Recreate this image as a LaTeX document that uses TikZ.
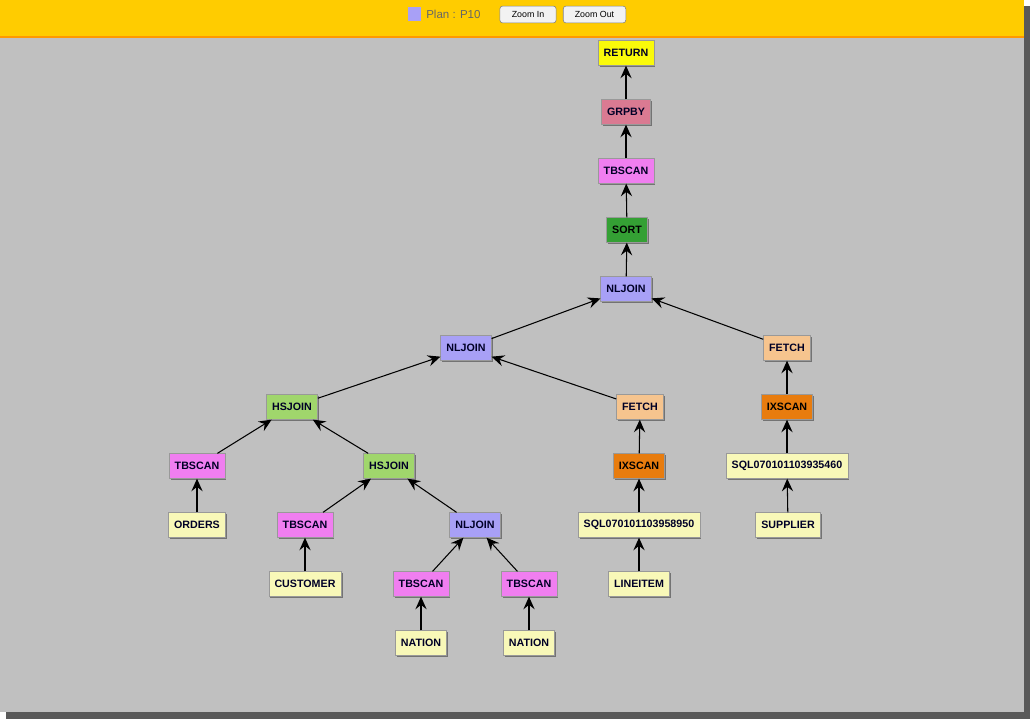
\documentclass[tikz,border=0pt]{standalone}
\usepackage{fontspec}
\setmainfont{Liberation Sans}
\usetikzlibrary{arrows.meta,shadows}

\definecolor{panelgray}{RGB}{192,192,192}
\definecolor{headyellow}{RGB}{255,204,0}
\definecolor{cReturn}{RGB}{250,250,10}
\definecolor{cGrpby}{RGB}{218,122,146}
\definecolor{cScan}{RGB}{240,126,240}
\definecolor{cSort}{RGB}{52,160,52}
\definecolor{cJoin}{RGB}{168,160,246}
\definecolor{cFetch}{RGB}{246,196,142}
\definecolor{cHash}{RGB}{160,214,108}
\definecolor{cIndex}{RGB}{232,124,14}
\definecolor{cTable}{RGB}{248,248,184}

\tikzset{
  op/.style={draw=black!40, line width=0.5pt, font=\fontsize{7.6}{9}\selectfont\bfseries,
    text=black!85!blue, inner xsep=4pt, inner ysep=0pt, minimum height=17.5pt,
    drop shadow={shadow xshift=1pt, shadow yshift=-1pt, fill=black!55, opacity=1}},
  link/.style={-{Stealth[length=9pt,width=8pt,inset=3.2pt]}, line width=0.75pt},
  btn/.style={draw=black!50, fill=white!95!black, rounded corners=2pt,
    font=\fontsize{6.3}{7}\selectfont, minimum height=12pt, inner xsep=0pt}
}

\begin{document}
\begin{tikzpicture}[x=0.025cm, y=-0.025cm]
  \useasboundingbox (0,0) rectangle (1036,724);

  % window
  \fill[black!65] (6,6) rectangle (1030,719);
  \fill[panelgray] (0,0) rectangle (1024,712);
  \fill[headyellow] (0,0) rectangle (1024,37);
  \draw[orange!80!yellow, line width=0.8pt] (0,37) -- (1024,37);

  % header
  \node[fill=cJoin, minimum size=9.5pt, inner sep=0pt] (key) at (414.5,14) {};
  \node[anchor=west, font=\fontsize{8.2}{10}\selectfont, text=black!60, inner sep=0pt] (plan) at (426,14) {Plan : P10};
  \node[btn, minimum width=40pt] (zin) at (528,14.5) {Zoom In};
  \node[btn, minimum width=44.5pt] (zout) at (594.5,14.5) {Zoom Out};

  % operators
  \node[op, fill=cReturn] (ret) at (626,53) {RETURN};
  \node[op, fill=cGrpby] (grp) at (626,112) {GRPBY};
  \node[op, fill=cScan] (tbtop) at (626,171) {TBSCAN};
  \node[op, fill=cSort, text=black] (sort) at (627,230) {SORT};
  \node[op, fill=cJoin] (nlA) at (626,289) {NLJOIN};
  \node[op, fill=cJoin] (nlB) at (466,348) {NLJOIN};
  \node[op, fill=cFetch] (feA) at (787,348) {FETCH};
  \node[op, fill=cHash] (hsA) at (292,407) {HSJOIN};
  \node[op, fill=cFetch] (feB) at (640,407) {FETCH};
  \node[op, fill=cIndex, text=black] (ixA) at (787,407) {IXSCAN};
  \node[op, fill=cScan] (tbord) at (197,466) {TBSCAN};
  \node[op, fill=cHash] (hsB) at (389,466) {HSJOIN};
  \node[op, fill=cIndex, text=black] (ixB) at (639,466) {IXSCAN};
  \node[op, fill=cTable] (sqlA) at (787,466) {SQL070101103935460};
  \node[op, fill=cScan] (tbcus) at (305,525) {TBSCAN};
  \node[op, fill=cJoin] (nlC) at (475,525) {NLJOIN};
  \node[op, fill=cTable] (sqlB) at (639,525) {SQL070101103958950};
  \node[op, fill=cScan] (tbnA) at (421,584) {TBSCAN};
  \node[op, fill=cScan] (tbnB) at (529,584) {TBSCAN};

  % tables
  \node[op, fill=cTable] (orders) at (197,525) {ORDERS};
  \node[op, fill=cTable] (supp) at (788,525) {SUPPLIER};
  \node[op, fill=cTable] (cust) at (305,584) {CUSTOMER};
  \node[op, fill=cTable] (litem) at (639,584) {LINEITEM};
  \node[op, fill=cTable] (natA) at (421,643) {NATION};
  \node[op, fill=cTable] (natB) at (529,643) {NATION};

  % flow
  \foreach \a/\b in {grp/ret, tbtop/grp, sort/tbtop, nlA/sort, nlB/nlA, feA/nlA,
      hsA/nlB, feB/nlB, ixA/feA, sqlA/ixA, supp/sqlA, tbord/hsA, hsB/hsA,
      ixB/feB, sqlB/ixB, litem/sqlB, orders/tbord, tbcus/hsB, nlC/hsB,
      cust/tbcus, tbnA/nlC, tbnB/nlC, natA/tbnA, natB/tbnB}
    \draw[link] (\a) -- (\b);
\end{tikzpicture}
\end{document}
